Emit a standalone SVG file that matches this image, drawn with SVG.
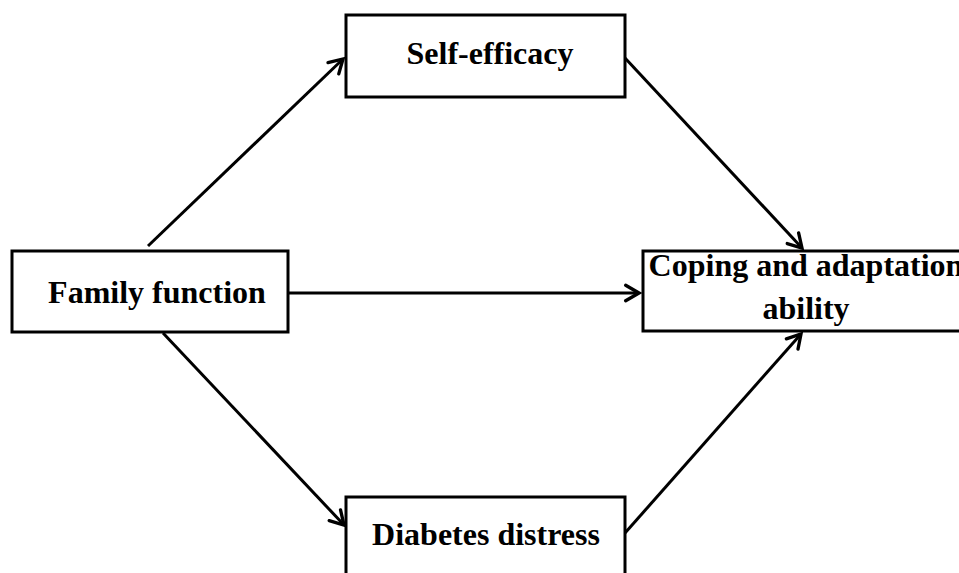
<svg xmlns="http://www.w3.org/2000/svg" width="959" height="573" viewBox="0 0 959 573">
<style>
.box{fill:#fff;stroke:#000;stroke-width:3}
.lbl{font-family:"Liberation Serif","Times New Roman",serif;font-weight:bold;font-size:32px;fill:#000;text-anchor:middle}
.edge{stroke:#000;stroke-width:3;fill:none;marker-end:url(#ah)}
</style>
<defs>
<marker id="ah" markerUnits="userSpaceOnUse" markerWidth="20" markerHeight="20" viewBox="-14 -9 16 18" refX="0" refY="0" orient="auto">
<path d="M-12,-7 L0,0 L-12,7" fill="none" stroke="#000" stroke-width="3" stroke-linecap="round" stroke-linejoin="miter"/>
</marker>
</defs>
<rect width="959" height="573" fill="#fff"/>
<g id="edges">
<line class="edge" x1="148" y1="246" x2="343" y2="59"/>
<line class="edge" x1="625" y1="58" x2="802" y2="248"/>
<line class="edge" x1="288" y1="293" x2="639" y2="293"/>
<line class="edge" x1="163" y1="333" x2="344" y2="525"/>
<line class="edge" x1="625" y1="533" x2="801" y2="334"/>
</g>
<g id="self-efficacy">
<rect class="box" x="346" y="15" width="279" height="82"/>
<text class="lbl" x="490" y="64">Self-efficacy</text>
</g>
<g id="family-function">
<rect class="box" x="12" y="251" width="276" height="81"/>
<text class="lbl" x="157" y="303">Family function</text>
</g>
<g id="coping">
<rect class="box" x="643" y="251" width="330" height="80"/>
<text class="lbl" x="806" y="276">Coping and adaptation</text>
<text class="lbl" x="806" y="319">ability</text>
</g>
<g id="diabetes-distress">
<rect class="box" x="346" y="497" width="279" height="90"/>
<text class="lbl" x="486" y="545">Diabetes distress</text>
</g>
</svg>
